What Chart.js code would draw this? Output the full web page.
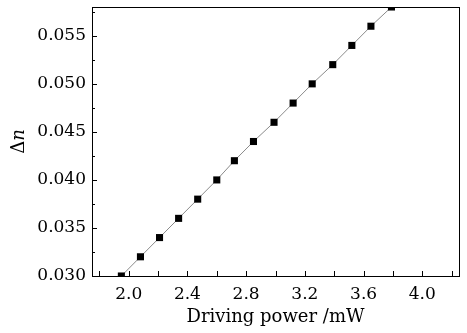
<!DOCTYPE html>
<html>
<head>
<meta charset="utf-8">
<script src="https://cdn.jsdelivr.net/npm/chart.js@4.4.0/dist/chart.umd.min.js"></script>
<style>
  html, body { margin: 0; padding: 0; background: #fff; }
  #wrap { width: 467px; height: 333px; }
</style>
</head>
<body>
<div id="wrap"><canvas id="myChart" width="467" height="333"></canvas></div>
<script>
// driving power (mW) and index change
const power = [1.95, 2.08, 2.21, 2.34, 2.47, 2.60, 2.72, 2.85, 2.99, 3.12, 3.25, 3.39, 3.52, 3.65, 3.79];
const deltaN = [0.030, 0.032, 0.034, 0.036, 0.038, 0.040, 0.042, 0.044, 0.046, 0.048, 0.050, 0.052, 0.054, 0.056, 0.058];

const xTicks = [1.8, 2.0, 2.2, 2.4, 2.6, 2.8, 3.0, 3.2, 3.4, 3.6, 3.8, 4.0, 4.2];
const xLabels = ['', '2.0', '', '2.4', '', '2.8', '', '3.2', '', '3.6', '', '4.0', ''];
const yTicks = [0.030, 0.0325, 0.035, 0.0375, 0.040, 0.0425, 0.045, 0.0475, 0.050, 0.0525, 0.055, 0.0575];
const yLabels = ['0.030', '', '0.035', '', '0.040', '', '0.045', '', '0.050', '', '0.055', ''];

const FONT = "'DejaVu Serif', serif";

const frame = {
    id: 'frame',
    afterDatasetsDraw(chart) {
        const ctx = chart.ctx;
        const a = chart.chartArea;
        const xs = chart.scales.x, ys = chart.scales.y;
        ctx.save();
        ctx.strokeStyle = '#000';
        ctx.lineWidth = 1;
        ctx.beginPath();
        xTicks.forEach((v) => {
            const px = Math.round(xs.getPixelForValue(v)) + 0.5;
            ctx.moveTo(px, a.bottom);
            ctx.lineTo(px, a.bottom - 5);
        });
        yTicks.forEach((v, i) => {
            const py = Math.round(ys.getPixelForValue(v)) + 0.5;
            ctx.moveTo(a.left, py);
            ctx.lineTo(a.left + (yLabels[i] ? 5 : 3), py);
        });
        ctx.stroke();
        ctx.strokeRect(Math.round(a.left) + 0.5, Math.round(a.top) + 0.5,
            Math.round(a.right - a.left), Math.round(a.bottom - a.top));

        // y axis title: Δn with italic n
        ctx.translate(19, (a.top + a.bottom) / 2);
        ctx.rotate(-Math.PI / 2);
        ctx.fillStyle = '#000';
        ctx.textBaseline = 'middle';
        ctx.font = '18px ' + FONT;
        const w1 = ctx.measureText('\u0394').width;
        ctx.font = 'italic 18px ' + FONT;
        const w2 = ctx.measureText('n').width;
        let sx = -(w1 + w2) / 2;
        ctx.font = '18px ' + FONT;
        ctx.textAlign = 'left';
        ctx.fillText('\u0394', sx, 0);
        ctx.font = 'italic 18px ' + FONT;
        ctx.fillText('n', sx + w1, 0);
        ctx.restore();
    }
};

new Chart(document.getElementById('myChart').getContext('2d'), {
    type: 'line',
    data: {
        datasets: [{
            data: power.map((p, i) => ({ x: p, y: deltaN[i] })),
            borderColor: '#8a8a8a',
            borderWidth: 1,
            backgroundColor: '#000',
            pointBackgroundColor: '#000',
            pointBorderColor: '#000',
            pointBorderWidth: 0,
            pointStyle: 'rect',
            pointRadius: 5,
            tension: 0,
        }],
    },
    options: {
        responsive: false,
        animation: false,
        layout: { padding: { top: 7, right: 8, left: 0, bottom: 0 } },
        plugins: { legend: { display: false }, tooltip: { enabled: false } },
        scales: {
            x: {
                type: 'linear',
                min: 1.75,
                max: 4.25,
                afterBuildTicks: (s) => { s.ticks = xTicks.map((v) => ({ value: v })); },
                afterFit: (s) => { s.height = 57; s.paddingLeft = 0; s.paddingRight = 0; },
                grid: { display: false, drawTicks: false },
                border: { display: false },
                ticks: {
                    autoSkip: false,
                    maxRotation: 0,
                    padding: 8,
                    color: '#000',
                    font: { family: FONT, size: 17 },
                    callback: (v, i) => xLabels[i],
                },
                title: {
                    display: true,
                    text: 'Driving power /mW',
                    color: '#000',
                    font: { family: FONT, size: 18 },
                    padding: { top: 0, bottom: 5 },
                },
            },
            y: {
                min: 0.030,
                max: 0.058,
                afterBuildTicks: (s) => { s.ticks = yTicks.map((v) => ({ value: v })); },
                afterFit: (s) => { s.width = 92; s.paddingTop = 0; s.paddingBottom = 0; },
                grid: { display: false, drawTicks: false },
                border: { display: false },
                ticks: {
                    autoSkip: false,
                    padding: 6,
                    color: '#000',
                    font: { family: FONT, size: 17 },
                    callback: (v, i) => yLabels[i],
                },
            },
        },
    },
    plugins: [frame],
});
</script>
</body>
</html>
